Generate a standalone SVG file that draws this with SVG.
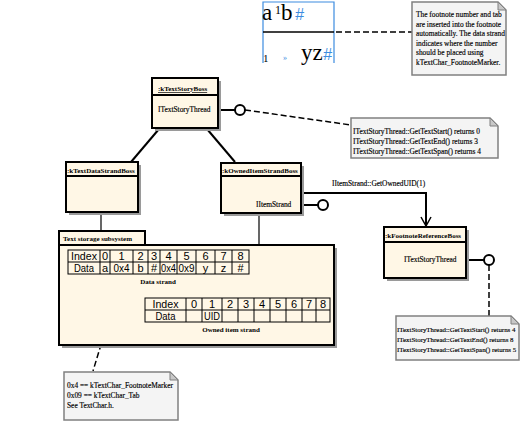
<svg xmlns="http://www.w3.org/2000/svg" width="523" height="435" viewBox="0 0 523 435">
<defs>
<style>
.box{fill:#fff7e6;stroke:#000;stroke-width:2}
.shadow{fill:#9a9a9a}
.note{fill:#f4f4f4;stroke:#808080;stroke-width:1.5}
.fold{fill:#c8c8c8;stroke:#808080;stroke-width:1}
.t{font-family:"Liberation Serif",serif;font-size:7.4px;fill:#000;stroke:#000;stroke-width:0.15}
.ts{font-family:"Liberation Serif",serif;font-size:6.9px;fill:#000;stroke:#000;stroke-width:0.15}
.tb{font-family:"Liberation Serif",serif;font-size:7px;font-weight:bold;fill:#000}
.cell{fill:none;stroke:#000;stroke-width:1}
.ct{font-family:"Liberation Sans",sans-serif;font-size:11px;fill:#000;text-anchor:middle}
.ln{stroke:#000;stroke-width:1.2;fill:none}
.lnb{stroke:#000;stroke-width:2;fill:none}
.dash{stroke:#000;stroke-width:1.5;fill:none;stroke-dasharray:6,3}
.lol{fill:#fff;stroke:#000;stroke-width:2}
</style>
<marker id="open" markerWidth="12" markerHeight="12" refX="10" refY="6" orient="auto" markerUnits="userSpaceOnUse">
<path d="M1,1 L10,6 L1,11" fill="none" stroke="#000" stroke-width="1.5"/>
</marker>
</defs>
<rect width="523" height="435" fill="#fff"/>

<g id="footnote-image">
<path d="M263,63 V2 H334 V63" fill="none" stroke="#3c8ce0" stroke-width="1.2"/>
<line x1="263" y1="32" x2="334" y2="32" stroke="#000" stroke-width="1.5"/>
<text x="262" y="20" font-family="Liberation Serif,serif" font-size="23">a</text>
<text x="275" y="14" font-family="Liberation Serif,serif" font-size="12">1</text>
<text x="281" y="20" font-family="Liberation Serif,serif" font-size="23">b</text>
<text x="295" y="20" font-family="Liberation Sans,sans-serif" font-style="italic" font-size="16" fill="#3c8ce0">#</text>
<text x="263" y="62" font-family="Liberation Serif,serif" font-size="11">1</text>
<text x="283" y="60" font-family="Liberation Serif,serif" font-size="8" fill="#3c8ce0">»</text>
<text x="301" y="60" font-family="Liberation Serif,serif" font-size="23">yz</text>
<text x="323" y="60" font-family="Liberation Sans,sans-serif" font-style="italic" font-size="16" fill="#3c8ce0">#</text>
</g>

<g id="connectors">
<line class="dash" x1="336" y1="32" x2="412" y2="32"/>
<line class="lnb" x1="159" y1="129" x2="131" y2="162"/>
<line class="lnb" x1="207" y1="129" x2="235" y2="162"/>
<line class="lnb" x1="218" y1="110" x2="235" y2="110"/>
<line class="dash" x1="245" y1="110" x2="351" y2="125"/>
<line class="ln" x1="101" y1="212" x2="101" y2="231"/>
<line class="ln" x1="259" y1="213" x2="259" y2="297"/>
<polyline class="lnb" points="300,193 426,193 426,226" marker-end="url(#open)"/>
<line class="lnb" x1="300" y1="205" x2="318" y2="205"/>
<line class="lnb" x1="466" y1="260" x2="484" y2="260"/>
<line class="dash" x1="489" y1="265" x2="489" y2="316"/>
<line class="dash" x1="117" y1="292" x2="93" y2="371"/>
</g>

<g id="note-footnote">
<path class="note" d="M412,2 H498 L506,10 V75 H412 Z"/>
<path class="fold" d="M498,2 V10 H506 Z"/>
<text class="t" x="416" y="17">The footnote number and tab</text>
<text class="t" x="416" y="27">are inserted into the footnote</text>
<text class="t" x="416" y="36">automatically. The data strand</text>
<text class="t" x="416" y="46">indicates where the number</text>
<text class="t" x="416" y="55">should be placed using</text>
<text class="t" x="416" y="65">kTextChar_FootnoteMarker.</text>
</g>

<g id="kTextStoryBoss">
<rect class="shadow" x="155" y="81" width="66" height="50"/>
<rect class="box" x="152" y="78" width="66" height="50"/>
<line class="lnb" x1="152" y1="95" x2="218" y2="95"/>
<text class="tb" x="158" y="91" text-decoration="underline">:kTextStoryBoss</text>
<text class="t" x="158" y="112">ITextStoryThread</text>
<circle class="lol" cx="240" cy="110" r="5"/>
</g>

<g id="note-story">
<path class="note" d="M351,118 H490 L498,126 V158 H351 Z"/>
<path class="fold" d="M490,118 V126 H498 Z"/>
<text class="t" x="353" y="134">ITextStoryThread::GetTextStart() returns 0</text>
<text class="t" x="353" y="144">ITextStoryThread::GetTextEnd() returns 3</text>
<text class="t" x="353" y="154">ITextStoryThread::GetTextSpan() returns 4</text>
</g>

<g id="kTextDataStrandBoss">
<rect class="shadow" x="69" y="165" width="72" height="50"/>
<rect class="box" x="66" y="162" width="72" height="50"/>
<line class="lnb" x1="66" y1="176" x2="138" y2="176"/>
<text class="tb" x="67" y="173">:kTextDataStrandBoss</text>
</g>

<g id="kOwnedItemStrandBoss">
<rect class="shadow" x="224" y="166" width="80" height="50"/>
<rect class="box" x="221" y="163" width="80" height="50"/>
<line class="lnb" x1="221" y1="176" x2="301" y2="176"/>
<text class="tb" x="222" y="173">:kOwnedItemStrandBoss</text>
<text class="t" x="256" y="207">IItemStrand</text>
<circle class="lol" cx="323" cy="205" r="5"/>
</g>

<text class="t" x="332" y="186">IItemStrand::GetOwnedUID(1)</text>

<g id="kFootnoteReferenceBoss">
<rect class="shadow" x="387" y="230" width="82" height="51"/>
<rect class="box" x="384" y="227" width="82" height="51"/>
<line class="lnb" x1="384" y1="242" x2="466" y2="242"/>
<text class="tb" x="385" y="238">:kFootnoteReferenceBoss</text>
<text class="t" x="404" y="262">ITextStoryThread</text>
<circle class="lol" cx="489" cy="260" r="5"/>
</g>

<g id="note-reference">
<path class="note" d="M396,316 H511 L519,324 V360 H396 Z"/>
<path class="fold" d="M511,316 V324 H519 Z"/>
<text class="ts" x="397" y="332">ITextStoryThread::GetTextStart() returns 4</text>
<text class="ts" x="397" y="342">ITextStoryThread::GetTextEnd() returns 8</text>
<text class="ts" x="397" y="352">ITextStoryThread::GetTextSpan() returns 5</text>
</g>

<g id="text-storage-subsystem">
<rect class="shadow" x="62" y="248" width="275" height="100"/>
<rect class="box" x="59" y="245" width="275" height="100"/>
<rect class="box" x="59" y="231" width="86" height="14"/>
<text class="tb" x="63" y="241">Text storage subsystem</text>

<g id="data-strand">
<rect x="68" y="250" width="181" height="24" fill="none" stroke="#000"/>
<path class="cell" d="M68,262 H249 M100,250 V274 M110,250 V274 M133,250 V274 M148,250 V274 M160,250 V274 M177,250 V274 M196,250 V274 M215,250 V274 M232,250 V274"/>
<g class="ct">
<text x="84" y="260" textLength="26" lengthAdjust="spacingAndGlyphs">Index</text><text x="105" y="260">0</text><text x="121.5" y="260">1</text><text x="140.5" y="260">2</text><text x="154" y="260">3</text><text x="168.5" y="260">4</text><text x="186.5" y="260">5</text><text x="205.5" y="260">6</text><text x="223.5" y="260">7</text><text x="240.5" y="260">8</text>
<text x="84" y="272" textLength="20" lengthAdjust="spacingAndGlyphs">Data</text><text x="105" y="272">a</text><text x="121.5" y="272" textLength="16" lengthAdjust="spacingAndGlyphs">0x4</text><text x="140.5" y="272">b</text><text x="154" y="272">#</text><text x="168.5" y="272" textLength="15" lengthAdjust="spacingAndGlyphs">0x4</text><text x="186.5" y="272" textLength="16" lengthAdjust="spacingAndGlyphs">0x9</text><text x="205.5" y="272">y</text><text x="223.5" y="272">z</text><text x="240.5" y="272">#</text>
</g>
<text class="tb" x="158" y="284" text-anchor="middle">Data strand</text>
</g>

<g id="owned-item-strand">
<rect x="145" y="298" width="185" height="24" fill="none" stroke="#000"/>
<path class="cell" d="M145,310 H330 M186,298 V322 M202,298 V322 M222,298 V322 M238,298 V322 M254,298 V322 M270,298 V322 M286,298 V322 M302,298 V322 M316,298 V322"/>
<g class="ct">
<text x="165.5" y="308" textLength="26" lengthAdjust="spacingAndGlyphs">Index</text><text x="194" y="308">0</text><text x="212" y="308">1</text><text x="230" y="308">2</text><text x="246" y="308">3</text><text x="262" y="308">4</text><text x="278" y="308">5</text><text x="294" y="308">6</text><text x="309" y="308">7</text><text x="323" y="308">8</text>
<text x="165.5" y="320" textLength="20" lengthAdjust="spacingAndGlyphs">Data</text><text x="212" y="320" textLength="16" lengthAdjust="spacingAndGlyphs">UID</text>
</g>
<text class="tb" x="231" y="332" text-anchor="middle">Owned item strand</text>
</g>
</g>

<g id="note-textchar">
<path class="note" d="M64,372 H170 L178,380 V420 H64 Z"/>
<path class="fold" d="M170,372 V380 H178 Z"/>
<text class="t" x="67" y="388">0x4 == kTextChar_FootnoteMarker</text>
<text class="t" x="67" y="398">0x09 == kTextChar_Tab</text>
<text class="t" x="67" y="408">See TextChar.h.</text>
</g>
</svg>
